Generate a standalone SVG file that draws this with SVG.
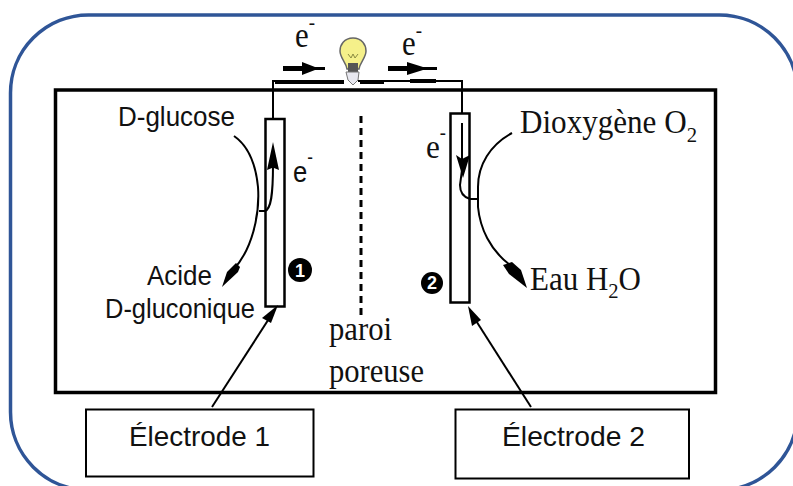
<svg xmlns="http://www.w3.org/2000/svg" width="793" height="486" viewBox="0 0 793 486">
<style>
.s{font-family:"Liberation Sans",Arial,sans-serif;fill:#111}
.t{font-family:"Liberation Serif","Times New Roman",serif;fill:#111}
.l{fill:none;stroke:#000}
.b{fill:#fff;stroke:#000;stroke-width:2}
.e{fill:#fff;stroke:#000;stroke-width:2.500}
.n{font-family:"Liberation Sans",Arial,sans-serif;font-weight:bold;font-size:18px;fill:#fff;text-anchor:middle}
</style>
<rect x="0" y="0" width="793" height="486" fill="#fff"/>
<rect id="cadre" x="10.500" y="15" width="787" height="475" rx="78" fill="none" stroke="#2f5597" stroke-width="3.500"/>
<g id="cellule"><rect x="55.500" y="90" width="660" height="302.500" fill="none" stroke="#000" stroke-width="3.500"/></g>
<g id="ampoule">
<path d="M353 38C344 38 340 45 340 51C340 58 346 62 347 69H359C360 62 366 58 366 51C366 45 362 38 353 38Z" fill="#f5f08a" stroke="#666" stroke-width="1.500"/>
<path d="M348 54L351 58L353 54L355 58L358 54" fill="none" stroke="#8a8a40"/>
<rect x="348" y="63" width="10" height="9" fill="#555"/>
<path d="M346 72H359L358 80L353 85L348 80Z" fill="#e8e8f0" stroke="#777"/>
</g>
<g id="electrode1"><rect class="e" x="265.500" y="119" width="19" height="187.500"/></g>
<g id="electrode2"><rect class="e" x="450.500" y="113.500" width="19" height="189"/></g>
<g id="badge1"><circle cx="300" cy="270" r="12" fill="#000"/><text class="n" x="300" y="277">1</text></g>
<g id="badge2"><circle cx="432" cy="283" r="11" fill="#000"/><text class="n" x="432" y="289">2</text></g>
<g id="boite1"><rect class="b" x="86" y="409.500" width="227.500" height="67"/><text class="s" x="129" y="446" font-size="28" textLength="141" lengthAdjust="spacingAndGlyphs">Électrode 1</text></g>
<g id="boite2"><rect class="b" x="455.500" y="409.500" width="233.500" height="69"/><text class="s" x="502" y="446" font-size="28" textLength="143" lengthAdjust="spacingAndGlyphs">Électrode 2</text></g>
<g id="connectors">
<path class="l" stroke-width="2" d="M273 119V81H344M358 81H462V113"/>
<path class="l" stroke-width="4" d="M275 82H344M360 82H384M410 81H436"/>
<path class="l" stroke-width="3" stroke-dasharray="7 5" d="M361 116V320"/>
<path d="M283 66H302V62L315 67H325V70H315L302 75V71H283Z" fill="#000"/>
<path d="M388 66H407V62L423 67H437V70H423L407 75V71H388Z" fill="#000"/>
<path class="l" stroke-width="2" d="M234 136C250 147 256 167 258 187C260 215 252 250 233 270"/>
<path d="M236 263L227 272L222 287L238 272L240 267Z" fill="#000"/>
<path class="l" stroke-width="2" d="M259 211H265C271 209 273 195 273 165"/>
<path d="M273 142L267 170L272 168L274 168L279 170Z" fill="#000"/>
<path class="l" stroke-width="2" d="M512 133C490 145 478 165 478 187V207C480 228 490 250 510 265"/>
<path d="M503 265L512 262L521 270L527 288L509 274Z" fill="#000"/>
<path class="l" stroke-width="2" d="M478 199H470C463 197 460 192 460 185L462 170V123"/>
<path d="M456 155L462 159L470 155L463 178Z" fill="#000"/>
<path class="l" stroke-width="2" d="M212 407L272 314"/>
<path d="M278 305L262 318L271 323Z" fill="#000"/>
<path class="l" stroke-width="2" d="M531 407L473 316"/>
<path d="M468 306L472 326L481 320Z" fill="#000"/>
</g>
<g id="labels">
<text class="t" x="295" y="47" font-size="36" textLength="20" lengthAdjust="spacingAndGlyphs">e<tspan dy="-18" font-size="22">-</tspan></text>
<text class="t" x="402" y="55" font-size="36" textLength="20" lengthAdjust="spacingAndGlyphs">e<tspan dy="-18" font-size="22">-</tspan></text>
<text class="s" x="118" y="126" font-size="28" textLength="117" lengthAdjust="spacingAndGlyphs">D-glucose</text>
<text class="s" x="293" y="182" font-size="30" textLength="20" lengthAdjust="spacingAndGlyphs">e<tspan dy="-18" font-size="20">-</tspan></text>
<text class="t" x="426" y="158" font-size="34" textLength="20" lengthAdjust="spacingAndGlyphs">e<tspan dy="-19" font-size="20">-</tspan></text>
<text class="t" x="520" y="133" font-size="33" textLength="177" lengthAdjust="spacingAndGlyphs">Dioxygène O<tspan dy="9" font-size="22">2</tspan></text>
<text class="s" x="147" y="285" font-size="28" textLength="65" lengthAdjust="spacingAndGlyphs">Acide</text>
<text class="s" x="105" y="318" font-size="28" textLength="150" lengthAdjust="spacingAndGlyphs">D-gluconique</text>
<text class="t" x="530" y="290" font-size="33" textLength="111" lengthAdjust="spacingAndGlyphs">Eau H<tspan dy="8" font-size="22">2</tspan><tspan dy="-8">O</tspan></text>
<text class="t" x="329" y="340" font-size="33" textLength="63" lengthAdjust="spacingAndGlyphs">paroi</text>
<text class="t" x="329" y="382" font-size="33" textLength="95" lengthAdjust="spacingAndGlyphs">poreuse</text>
</g>
</svg>
